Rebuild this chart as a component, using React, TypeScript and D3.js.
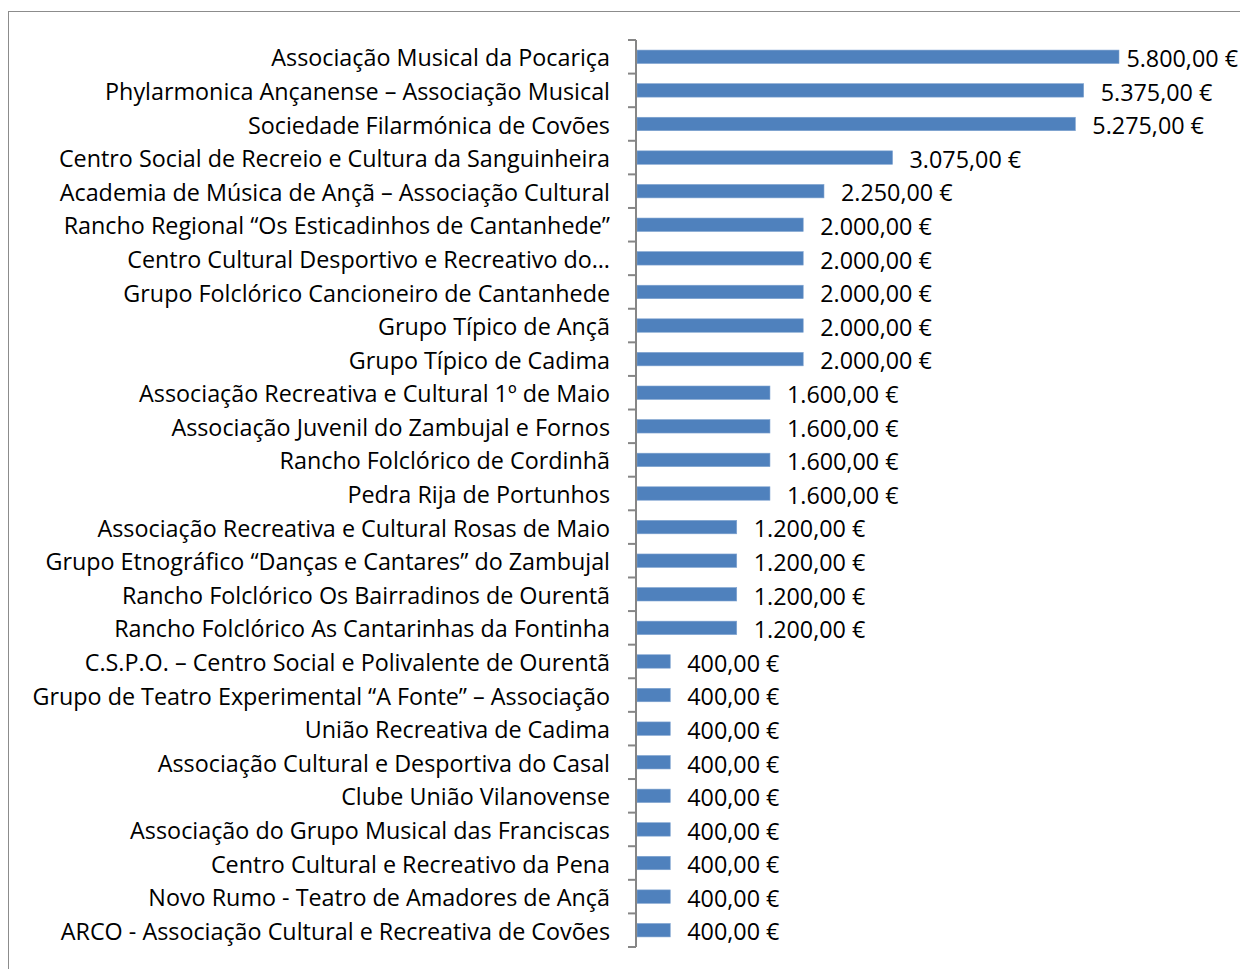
import React, { useEffect, useRef } from "react";
import * as d3 from "d3";

const categories: string[] = [
  "Associação Musical da Pocariça",
  "Phylarmonica Ançanense – Associação Musical",
  "Sociedade Filarmónica de Covões",
  "Centro Social de Recreio e Cultura da Sanguinheira",
  "Academia de Música de Ançã – Associação Cultural",
  "Rancho Regional “Os Esticadinhos de Cantanhede”",
  "Centro Cultural Desportivo e Recreativo do…",
  "Grupo Folclórico Cancioneiro de Cantanhede",
  "Grupo Típico de Ançã",
  "Grupo Típico de Cadima",
  "Associação Recreativa e Cultural 1º de Maio",
  "Associação Juvenil do Zambujal e Fornos",
  "Rancho Folclórico de Cordinhã",
  "Pedra Rija de Portunhos",
  "Associação Recreativa e Cultural Rosas de Maio",
  "Grupo Etnográfico “Danças e Cantares” do Zambujal",
  "Rancho Folclórico Os Bairradinos de Ourentã",
  "Rancho Folclórico As Cantarinhas da Fontinha",
  "C.S.P.O. – Centro Social e Polivalente de Ourentã",
  "Grupo de Teatro Experimental “A Fonte” – Associação",
  "União Recreativa de Cadima",
  "Associação Cultural e Desportiva do Casal",
  "Clube União Vilanovense",
  "Associação do Grupo Musical das Franciscas",
  "Centro Cultural e Recreativo da Pena",
  "Novo Rumo - Teatro de Amadores de Ançã",
  "ARCO - Associação Cultural e Recreativa de Covões",
];

const values: number[] = [
  5800, 5375, 5275, 3075, 2250, 2000, 2000, 2000, 2000, 2000, 1600, 1600, 1600,
  1600, 1200, 1200, 1200, 1200, 400, 400, 400, 400, 400, 400, 400, 400, 400,
];

const fmt = (v: number) =>
  d3.format(",.2f")(v).replace(/,/g, "X").replace(/\./g, ",").replace(/X/g, ".") + " €";

export default function App() {
  const ref = useRef<SVGSVGElement>(null);

  useEffect(() => {
    const svg = d3.select(ref.current);
    svg.selectAll("*").remove();
    const W = 1240;
    const font = "'Open Sans', 'Noto Sans', sans-serif";

    const probe = svg
      .append("text")
      .attr("font-family", font)
      .attr("font-size", 20)
      .text("Grupo de Teatro Experimental “A Fonte” – Associação");
    const pw = (probe.node() as SVGTextElement).getComputedTextLength();
    probe.remove();
    const fs = (20 * 578) / pw;

    svg
      .append("rect")
      .attr("x", 8.5)
      .attr("y", 11.5)
      .attr("width", 1400)
      .attr("height", 1200)
      .attr("fill", "#fff")
      .attr("stroke", "#8c8c8c")
      .attr("stroke-width", 1);

    const x0 = 637;
    const x = d3.scaleLinear().domain([0, 5800]).range([x0, 1119]);
    const y = d3
      .scaleBand<string>()
      .domain(categories)
      .range([40, 947])
      .paddingInner(0.6)
      .paddingOuter(0.3);

    const step = y.step();
    const g = svg.append("g");

    g.selectAll("rect.bar")
      .data(values)
      .join("rect")
      .attr("class", "bar")
      .attr("x", x0)
      .attr("y", (_, i) => y(categories[i])!)
      .attr("width", (d) => x(d) - x0)
      .attr("height", y.bandwidth())
      .attr("fill", "#4f81bd")
      .attr("stroke", "#7fa3d0")
      .attr("stroke-width", 0.6);

    const axis = svg.append("g").attr("stroke", "#868686").attr("stroke-width", 2);
    axis.append("line").attr("x1", x0 - 1).attr("x2", x0 - 1).attr("y1", 40).attr("y2", 947);
    const tickYs = d3.range(categories.length + 1).map((i) => 40 + i * step);
    axis
      .selectAll("line.tick")
      .data(tickYs)
      .join("line")
      .attr("class", "tick")
      .attr("x1", x0 - 9)
      .attr("x2", x0 - 1)
      .attr("y1", (d) => d)
      .attr("y2", (d) => d);

    g.selectAll("text.cat")
      .data(categories)
      .join("text")
      .attr("class", "cat")
      .attr("x", 610)
      .attr("y", (d) => y(d)! + y.bandwidth() / 2)
      .attr("dy", "0.41em")
      .attr("text-anchor", "end")
      .attr("font-family", font)
      .attr("font-size", fs)
      .attr("fill", "#000")
      .text((d) => d);

    const vl = g
      .selectAll("text.val")
      .data(values)
      .join("text")
      .attr("class", "val")
      .attr("x", (d) => x(d) + 17)
      .attr("y", (_, i) => y(categories[i])! + y.bandwidth() / 2)
      .attr("dy", "0.44em")
      .attr("font-family", font)
      .attr("font-size", fs)
      .attr("fill", "#000")
      .text((d) => fmt(d));

    vl.each(function (d) {
      const el = this as SVGTextElement;
      const w = el.getComputedTextLength();
      if (x(d) + 17 + w > W - 2) {
        d3.select(el).attr("x", W - 2 - w);
      }
    });
  }, []);

  return (
    <svg
      ref={ref}
      width={1240}
      height={969}
      style={{ position: "absolute", left: 0, top: 0, background: "#fff" }}
    />
  );
}
